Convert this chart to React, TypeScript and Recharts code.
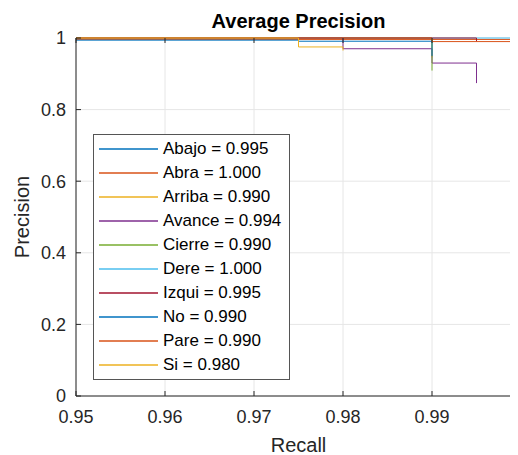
import { LineChart, Line, XAxis, YAxis, CartesianGrid, Legend } from 'recharts';

const classNames = ['Abajo', 'Abra', 'Arriba', 'Avance', 'Cierre', 'Dere', 'Izqui', 'No', 'Pare', 'Si'];
const apValues = [0.995, 1.0, 0.99, 0.994, 0.99, 1.0, 0.995, 0.99, 0.99, 0.98];

// step curves, one row per class
const recallPts = [
  [0.95, 0.99, 0.99],
  [0.95, 1],
  [0.95, 0.99, 0.99],
  [0.95, 0.98, 0.98, 0.99, 0.99, 0.995, 0.995],
  [0.95, 0.99, 0.99],
  [0.95, 1],
  [0.95, 0.995, 0.995],
  [0.95, 0.975, 0.975, 0.99, 0.99],
  [0.95, 0.99, 0.99, 1],
  [0.95, 0.975, 0.975, 0.98, 0.98],
];
const precisionPts = [
  [1, 1, 0.99],
  [0.996, 0.996],
  [1, 1, 0.946],
  [1, 1, 0.97, 0.97, 0.93, 0.93, 0.874],
  [1, 1, 0.909],
  [1, 1],
  [1, 1, 0.99],
  [0.994, 0.994, 0.991, 0.991, 0.95],
  [1, 1, 0.99, 0.99],
  [1, 1, 0.975, 0.975, 0.965],
];

const xTicks = [0.95, 0.96, 0.97, 0.98, 0.99, 1];
const yTicks = [0, 0.2, 0.4, 0.6, 0.8, 1];

const COLORS = ['#0072BD', '#D95319', '#EDB120', '#7E2F8E', '#77AC30', '#4DBEEE', '#A2142F', '#0072BD', '#D95319', '#EDB120'];
const FONT = '"Liberation Sans", Arial, Helvetica, sans-serif';
const AXIS = '#262626';

const W = 520;
const H = 447;
const TOP = 30;
const LEFT = 68;
const BOTTOM = 388;

const series = classNames.map((name, i) =>
  recallPts[i].map((r, j) => ({ r, p: precisionPts[i][j] }))
);

function XTick(props: any) {
  const { x, y, payload } = props;
  return (
    <g>
      <line x1={x} x2={x} y1={BOTTOM} y2={BOTTOM - 5} stroke={AXIS} />
      <line x1={x} x2={x} y1={TOP} y2={TOP + 5} stroke={AXIS} />
      <text x={x} y={y} dy="0.71em" textAnchor="middle" fill={AXIS} fontSize={18} fontFamily={FONT}>
        {String(payload.value)}
      </text>
    </g>
  );
}

function YTick(props: any) {
  const { x, y, payload } = props;
  return (
    <g>
      <line x1={LEFT} x2={LEFT + 5} y1={y} y2={y} stroke={AXIS} />
      <text x={x} y={y} dy="0.355em" textAnchor="end" fill={AXIS} fontSize={18} fontFamily={FONT}>
        {String(payload.value)}
      </text>
    </g>
  );
}

function LegendBox() {
  return (
    <div
      style={{
        width: 197,
        height: 246,
        boxSizing: 'border-box',
        border: '1px solid #555',
        background: '#fff',
        padding: '2px 0',
        fontFamily: FONT,
      }}
    >
      {classNames.map((n, i) => (
        <div key={n} style={{ display: 'flex', alignItems: 'center', height: 24 }}>
          <svg width={64} height={24} style={{ display: 'block', flex: 'none' }}>
            <line x1={5} x2={64} y1={12} y2={12} stroke={COLORS[i]} strokeWidth={1.4} />
          </svg>
          <span style={{ marginLeft: 5, fontSize: 17, color: '#000', whiteSpace: 'nowrap' }}>
            {n} = {apValues[i].toFixed(3)}
          </span>
        </div>
      ))}
    </div>
  );
}

export default function App() {
  return (
    <div style={{ position: 'relative', width: 510, height: H, overflow: 'hidden', fontFamily: FONT }}>
      <div
        style={{
          position: 'absolute',
          left: LEFT,
          width: 445,
          top: 2,
          lineHeight: '23px',
          textAlign: 'center',
          fontSize: 20,
          fontWeight: 'bold',
          color: '#000',
          zIndex: 1,
        }}
      >
        Average Precision
      </div>
      <LineChart width={W} height={H} margin={{ top: TOP, right: 7, bottom: 0, left: 0 }}>
        <CartesianGrid stroke="#e6e6e6" vertical horizontal />
        <XAxis
          type="number"
          dataKey="r"
          domain={[0.95, 1]}
          ticks={xTicks}
          height={H - BOTTOM}
          stroke={AXIS}
          tickLine={false}
          tickSize={0}
          tickMargin={14}
          tick={<XTick />}
          label={{ value: 'Recall', position: 'insideBottom', offset: 3, fill: AXIS, fontSize: 20, fontFamily: FONT }}
        />
        <YAxis
          type="number"
          dataKey="p"
          domain={[0, 1]}
          ticks={yTicks}
          width={LEFT}
          stroke={AXIS}
          tickLine={false}
          tickSize={0}
          tickMargin={10}
          tick={<YTick />}
          label={{ value: 'Precision', angle: -90, position: 'center', dx: -20, fill: AXIS, fontSize: 20, fontFamily: FONT }}
        />
        <Legend
          layout="vertical"
          align="center"
          verticalAlign="middle"
          wrapperStyle={{ left: 85, top: 126, width: 197, height: 246 }}
          content={() => <LegendBox />}
        />
        {series.map((pts, i) => (
          <Line
            key={classNames[i]}
            data={pts}
            dataKey="p"
            name={classNames[i]}
            type="linear"
            stroke={COLORS[i]}
            strokeWidth={1}
            dot={false}
            activeDot={false}
            isAnimationActive={false}
          />
        ))}
      </LineChart>
    </div>
  );
}
